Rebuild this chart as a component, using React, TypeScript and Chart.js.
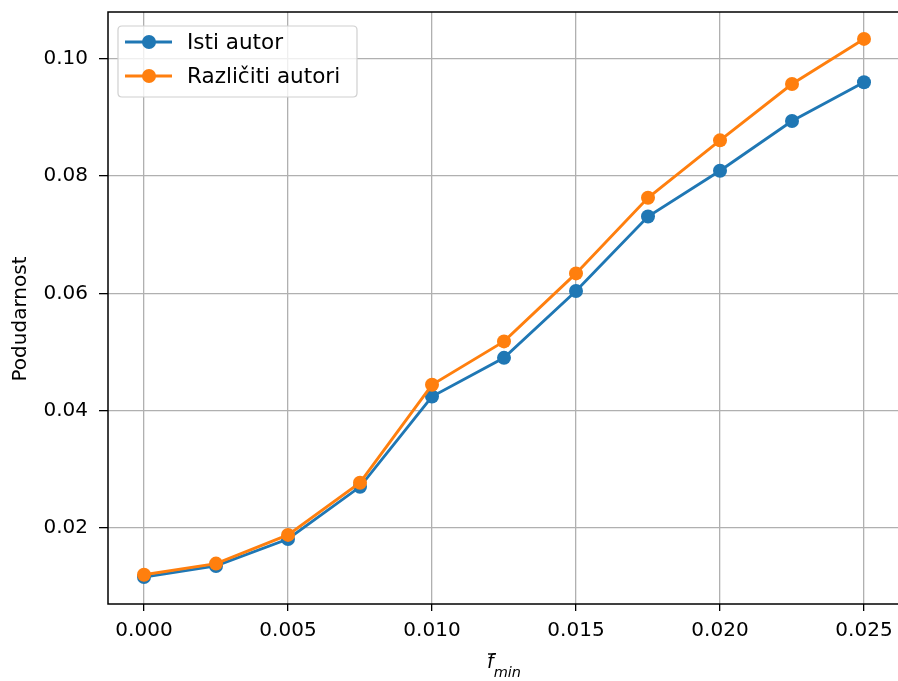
import React, { useEffect, useRef } from "react";
import { Chart, registerables } from "chart.js";

Chart.register(...registerables);

const xValues = [0, 0.0025, 0.005, 0.0075, 0.01, 0.0125, 0.015, 0.0175, 0.02, 0.0225, 0.025];
const istiAutor = [0.0116, 0.0135, 0.0181, 0.027, 0.0424, 0.049, 0.0604, 0.0731, 0.0809, 0.0894, 0.096];
const razlicitiAutori = [0.012, 0.0139, 0.0188, 0.0277, 0.0444, 0.0518, 0.0634, 0.0763, 0.0861, 0.0957, 0.1034];
const xTicks = [0, 0.005, 0.01, 0.015, 0.02, 0.025];
const yTicks = [0.02, 0.04, 0.06, 0.08, 0.1];
const seriesNames = ["Isti autor", "Različiti autori"];
const seriesColors = ["#1f77b4", "#ff7f0e"];
const yTitle = "Podudarnost";

const FONT = "'DejaVu Sans', sans-serif";
const FS = 20;
const LFS = 21.5;

const framePlugin = {
  id: "frame",
  afterDatasetsDraw(chart: any) {
    const { ctx, chartArea } = chart;
    ctx.save();
    ctx.strokeStyle = "#000";
    ctx.lineWidth = 1.5;
    ctx.strokeRect(chartArea.left, chartArea.top, chartArea.right - chartArea.left, chartArea.bottom - chartArea.top);
    ctx.restore();
  },
  afterDraw(chart: any) {
    const { ctx } = chart;
    ctx.save();
    // legend box
    const bx = 118, by = 26, bw = 239, bh = 71, r = 4;
    ctx.beginPath();
    ctx.moveTo(bx + r, by);
    ctx.lineTo(bx + bw - r, by);
    ctx.quadraticCurveTo(bx + bw, by, bx + bw, by + r);
    ctx.lineTo(bx + bw, by + bh - r);
    ctx.quadraticCurveTo(bx + bw, by + bh, bx + bw - r, by + bh);
    ctx.lineTo(bx + r, by + bh);
    ctx.quadraticCurveTo(bx, by + bh, bx, by + bh - r);
    ctx.lineTo(bx, by + r);
    ctx.quadraticCurveTo(bx, by, bx + r, by);
    ctx.closePath();
    ctx.fillStyle = "rgba(255,255,255,0.8)";
    ctx.fill();
    ctx.strokeStyle = "#d0d0d0";
    ctx.lineWidth = 1.2;
    ctx.stroke();
    const rows = [42, 76];
    chart.data.datasets.forEach((ds: any, i: number) => {
      const y = rows[i];
      ctx.strokeStyle = ds.borderColor;
      ctx.lineWidth = 2.9;
      ctx.beginPath();
      ctx.moveTo(125, y);
      ctx.lineTo(172, y);
      ctx.stroke();
      ctx.fillStyle = ds.borderColor;
      ctx.beginPath();
      ctx.arc(149, y, 7, 0, Math.PI * 2);
      ctx.fill();
      ctx.fillStyle = "#000";
      ctx.font = `${LFS}px ${FONT}`;
      ctx.textBaseline = "middle";
      ctx.textAlign = "left";
      ctx.fillText(ds.label, 187, y + 1);
    });
    // y axis title
    ctx.save();
    ctx.translate(21, 319);
    ctx.rotate(-Math.PI / 2);
    ctx.font = `${FS}px ${FONT}`;
    ctx.textAlign = "center";
    ctx.textBaseline = "middle";
    ctx.fillStyle = "#000";
    ctx.fillText(yTitle, 0, 0);
    ctx.restore();
    // x axis label: f-bar with subscript min
    const cx = 504;
    ctx.fillStyle = "#000";
    ctx.textBaseline = "alphabetic";
    ctx.textAlign = "left";
    ctx.font = `italic 19px ${FONT}`;
    const fw = ctx.measureText("f").width;
    ctx.font = `italic 14.5px ${FONT}`;
    const mw = ctx.measureText("min").width;
    const start = cx - (fw + mw) / 2;
    ctx.font = `italic 19px ${FONT}`;
    ctx.fillText("f", start, 668);
    ctx.strokeStyle = "#000";
    ctx.lineWidth = 1.4;
    ctx.beginPath();
    ctx.moveTo(start + 1, 654);
    ctx.lineTo(start + fw + 2, 654);
    ctx.stroke();
    ctx.font = `italic 14.5px ${FONT}`;
    ctx.fillText("min", start + fw, 677);
    ctx.restore();
  },
};

export default function App() {
  const ref = useRef<HTMLCanvasElement>(null);
  useEffect(() => {
    document.body.style.margin = "0";
    const chart = new Chart(ref.current!, {
      type: "line",
      data: {
        datasets: [
          {
            label: seriesNames[0],
            data: xValues.map((x, i) => ({ x, y: istiAutor[i] })),
            borderColor: seriesColors[0],
            backgroundColor: seriesColors[0],
            pointBackgroundColor: seriesColors[0],
            pointBorderColor: seriesColors[0],
            borderWidth: 2.9,
            pointRadius: 7,
            pointBorderWidth: 0,
            order: 1,
            tension: 0,
          },
          {
            label: seriesNames[1],
            data: xValues.map((x, i) => ({ x, y: razlicitiAutori[i] })),
            borderColor: seriesColors[1],
            backgroundColor: seriesColors[1],
            pointBackgroundColor: seriesColors[1],
            pointBorderColor: seriesColors[1],
            borderWidth: 2.9,
            pointRadius: 7,
            pointBorderWidth: 0,
            order: 0,
            tension: 0,
          },
        ],
      },
      options: {
        animation: false,
        responsive: false,
        maintainAspectRatio: false,
        devicePixelRatio: 1,
        layout: { autoPadding: false, padding: { top: 12, right: 4, left: 0, bottom: 0 } },
        plugins: { legend: { display: false }, tooltip: { enabled: false } },
        scales: {
          x: {
            type: "linear",
            min: -0.00125,
            max: 0.02625,
            afterBuildTicks: (s: any) => {
              s.ticks = xTicks.map((v) => ({ value: v }));
            },
            afterFit: (s: any) => {
              s.height = 77;
              s.paddingLeft = 0;
              s.paddingRight = 0;
            },
            ticks: {
              callback: (v: any) => Number(v).toFixed(3),
              font: { family: FONT, size: FS },
              color: "#000",
              padding: 8,
              maxRotation: 0,
              autoSkip: false,
            },
            grid: { color: "#b0b0b0", lineWidth: 1.3, tickLength: 7, tickColor: "#000", tickWidth: 1.3 },
            border: { display: false },
          },
          y: {
            type: "linear",
            min: 0.00701,
            max: 0.10799,
            afterBuildTicks: (s: any) => {
              s.ticks = yTicks.map((v) => ({ value: v }));
            },
            afterFit: (s: any) => {
              s.width = 108;
              s.paddingTop = 0;
              s.paddingBottom = 0;
            },
            ticks: {
              callback: (v: any) => Number(v).toFixed(2),
              font: { family: FONT, size: FS },
              color: "#000",
              padding: 11,
              autoSkip: false,
            },
            grid: { color: "#b0b0b0", lineWidth: 1.3, tickLength: 9, tickColor: "#000", tickWidth: 1.3 },
            border: { display: false },
            title: { display: false },
          },
        },
      },
      plugins: [framePlugin],
    });
    return () => chart.destroy();
  }, []);
  return (
    <div style={{ width: 898, height: 681, overflow: "hidden", position: "relative", background: "#fff" }}>
      <canvas ref={ref} width={904} height={681} style={{ display: "block", width: 904, height: 681 }} />
    </div>
  );
}
